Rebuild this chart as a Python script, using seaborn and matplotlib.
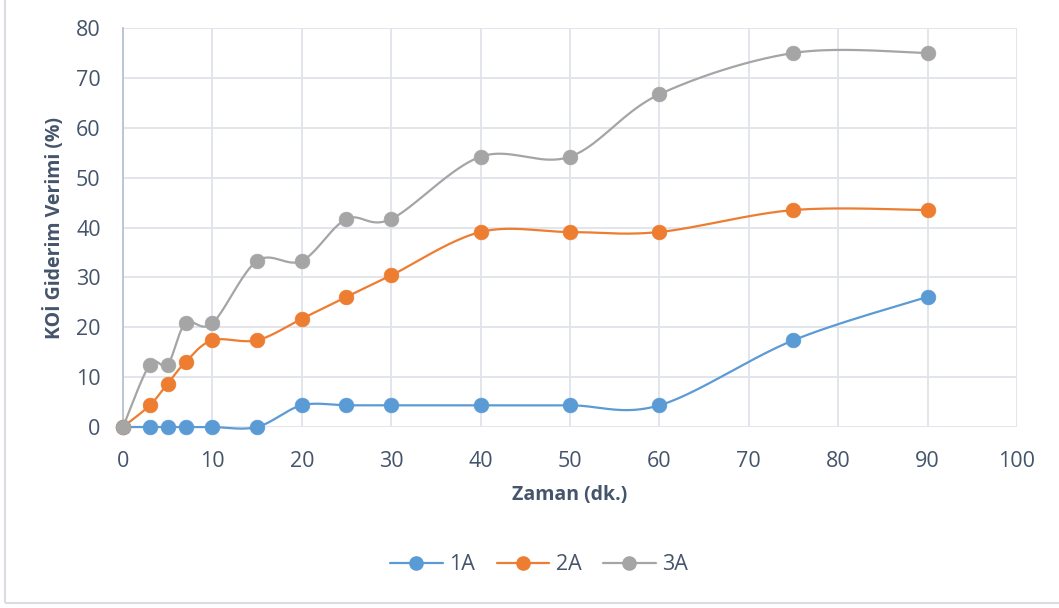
import numpy as np
import pandas as pd
import matplotlib
matplotlib.use("Agg")
import matplotlib.pyplot as plt
from matplotlib.lines import Line2D
from matplotlib.patches import Rectangle
import seaborn as sns

# Sampling times (minutes) and removal efficiency for each run
zaman = [0, 3, 5, 7, 10, 15, 20, 25, 30, 40, 50, 60, 75, 90]
seri_1a = [0, 0, 0, 0, 0, 0, 4.35, 4.35, 4.35, 4.35, 4.35, 4.35, 17.4, 26.1]
seri_2a = [0, 4.35, 8.7, 13.0, 17.4, 17.4, 21.7, 26.1, 30.4, 39.1, 39.1, 39.1, 43.5, 43.5]
seri_3a = [0, 12.5, 12.5, 20.8, 20.8, 33.3, 33.3, 41.7, 41.7, 54.2, 54.2, 66.7, 75.0, 75.0]
seri_adlari = ["1A", "2A", "3A"]
renkler = ["#5b9bd5", "#ed7d31", "#a5a5a5"]
x_ticks = list(range(0, 101, 10))
y_ticks = list(range(0, 81, 10))

text_color = "#44546a"
grid_color = "#dfe3ea"

sns.set_theme(style="white")
plt.rcParams["font.family"] = ["Open Sans", "DejaVu Sans"]


def smooth_curve(xs, ys, n=40):
    """Cardinal (Catmull-Rom style) Bezier smoothing through every point."""
    pts = np.column_stack([xs, ys]).astype(float)
    out = []
    m = len(pts)
    for i in range(m - 1):
        p0 = pts[i - 1] if i > 0 else pts[i]
        p1 = pts[i]
        p2 = pts[i + 1]
        p3 = pts[i + 2] if i + 2 < m else pts[i + 1]
        c1 = p1 + (p2 - p0) / 6.0
        c2 = p2 - (p3 - p1) / 6.0
        t = np.linspace(0, 1, n)[:, None]
        seg = ((1 - t) ** 3) * p1 + 3 * ((1 - t) ** 2) * t * c1 + 3 * (1 - t) * t ** 2 * c2 + t ** 3 * p2
        out.append(seg if i == 0 else seg[1:])
    return np.vstack(out)


fig = plt.figure(figsize=(10.59, 6.08), dpi=100)
ax = fig.add_axes([0.1161, 0.2977, 0.8442, 0.6562])

# Light frame around the chart area
fig.patches.append(Rectangle((5 / 1059, 5 / 608), 1.2, 1.2, transform=fig.transFigure,
                             fill=False, edgecolor="#d9dde3", linewidth=1.5, zorder=0))

for ad, ys, renk in zip(seri_adlari, [seri_1a, seri_2a, seri_3a], renkler):
    curve = smooth_curve(zaman, ys)
    df_c = pd.DataFrame({"x": curve[:, 0], "y": curve[:, 1]})
    sns.lineplot(data=df_c, x="x", y="y", ax=ax, color=renk, linewidth=1.6,
                 sort=False, estimator=None, zorder=3, clip_on=False)
    df_p = pd.DataFrame({"x": zaman, "y": ys})
    sns.scatterplot(data=df_p, x="x", y="y", ax=ax, color=renk, s=112,
                    edgecolor=renk, linewidth=0.5, zorder=4, clip_on=False)

ax.set_xlim(0, 100)
ax.set_ylim(0, 80)
ax.set_xticks(x_ticks)
ax.set_yticks(y_ticks)
ax.grid(True, color=grid_color, linewidth=1.3)
ax.set_axisbelow(True)
for s in ["top", "right", "bottom"]:
    ax.spines[s].set_visible(False)
ax.spines["left"].set_color("#b7c2d1")
ax.spines["left"].set_linewidth(1.3)
ax.tick_params(axis="both", length=0, labelsize=15.5, colors=text_color)
ax.tick_params(axis="x", pad=17)
ax.tick_params(axis="y", pad=16)

ax.set_xlabel("Zaman (dk.)", fontsize=14, fontweight="bold", color=text_color, labelpad=10)
ax.set_ylabel("KOİ Giderim Verimi (%)", fontsize=14, fontweight="bold", color=text_color, labelpad=8)

handles = [Line2D([0], [0], color=r, linewidth=1.6, marker="o", markersize=9.5,
                  markeredgecolor=r) for r in renkler]
leg = fig.legend(handles, seri_adlari, loc="center", bbox_to_anchor=(0.509, 0.071),
                 ncol=3, frameon=False, fontsize=15.5, handlelength=2.45,
                 columnspacing=1.0, handletextpad=0.3)
for t in leg.get_texts():
    t.set_color(text_color)

fig.savefig("out.png", dpi=100)
